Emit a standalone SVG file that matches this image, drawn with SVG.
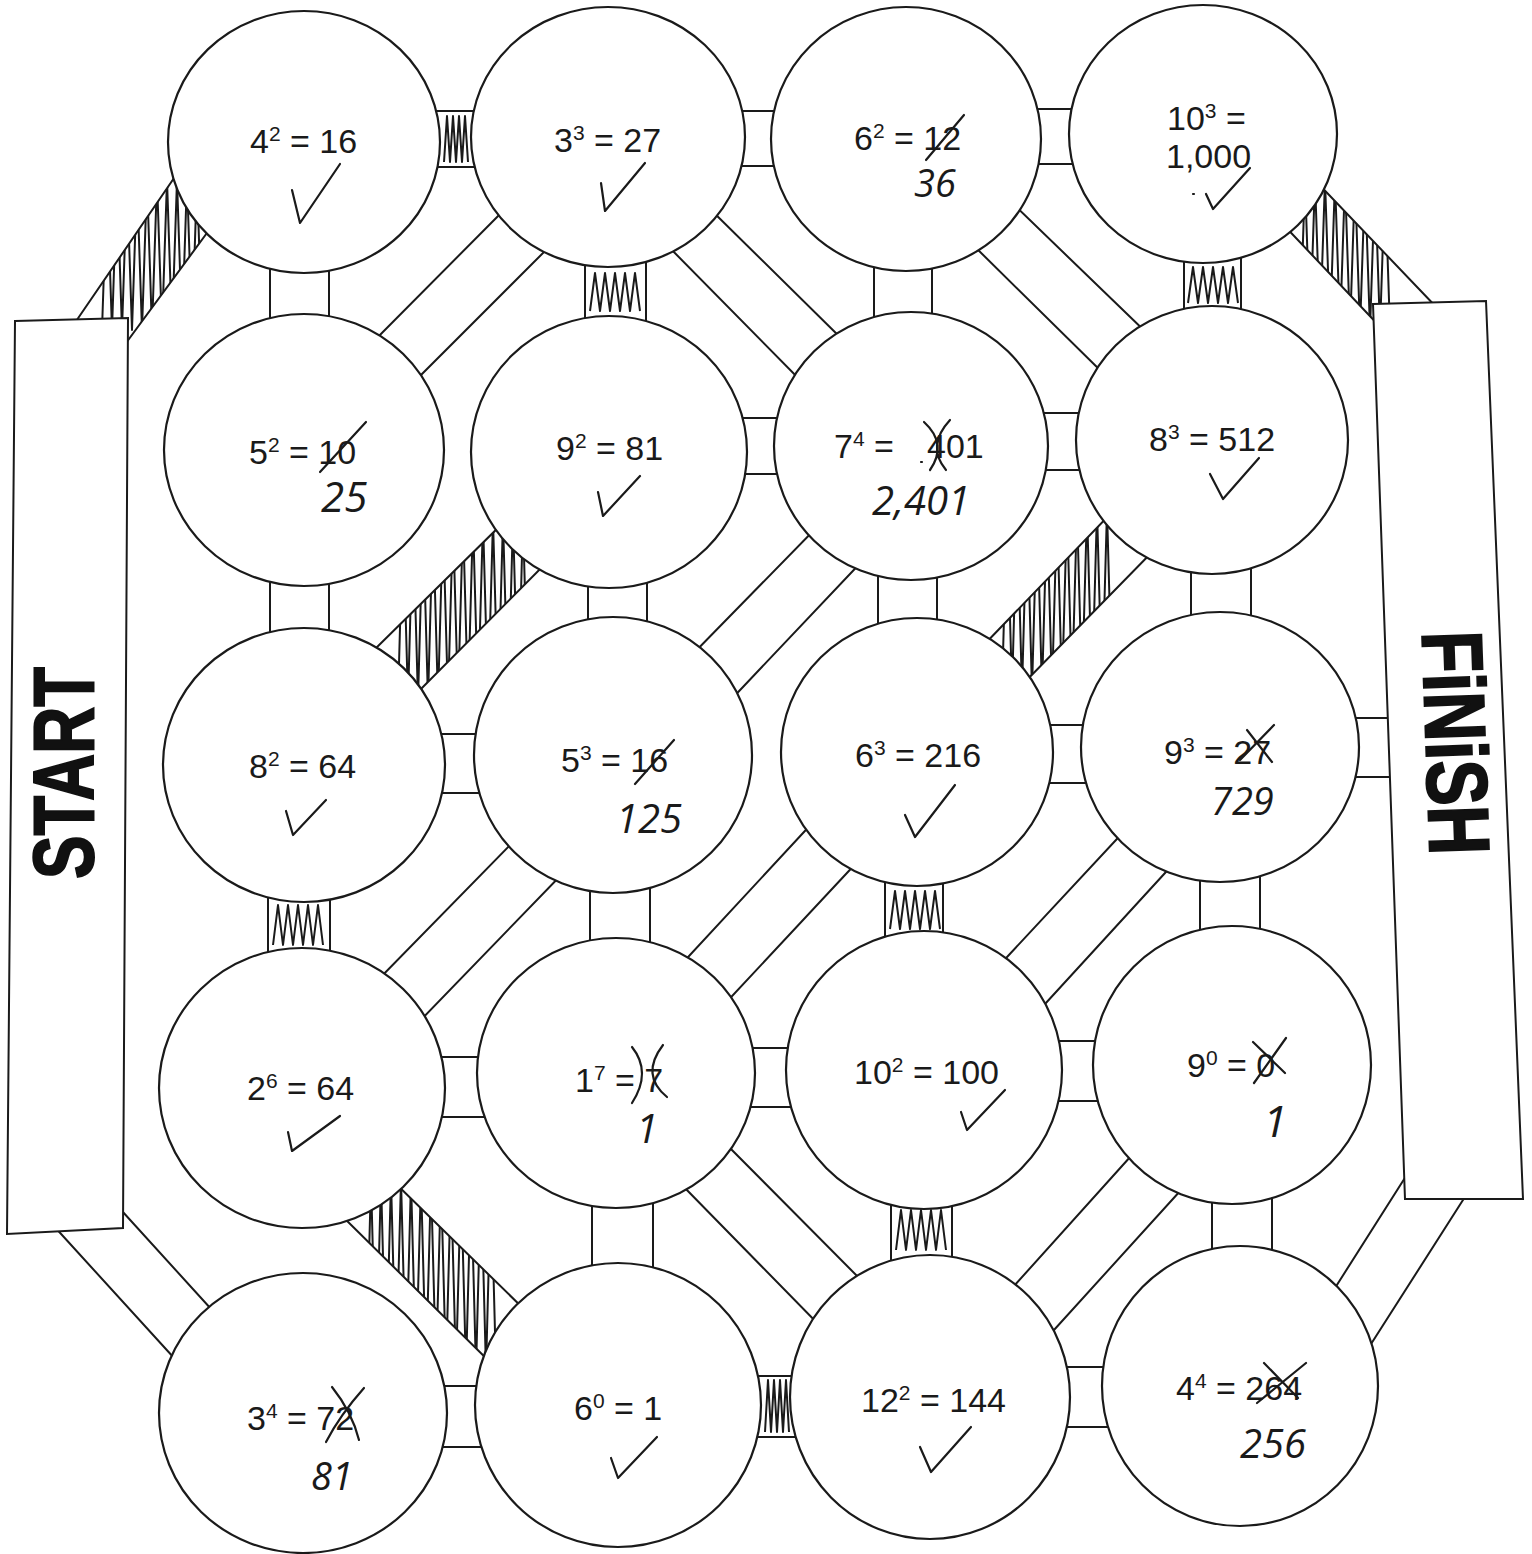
<svg xmlns="http://www.w3.org/2000/svg" width="1532" height="1554" viewBox="0 0 1532 1554">
<style>
.br{stroke:#1a1a1a;stroke-width:2;fill:none}
.sc{stroke:#1a1a1a;stroke-width:2;fill:none;stroke-linejoin:round}
.node ellipse{fill:#fff;stroke:#1a1a1a;stroke-width:2.2}
.t{font-family:"Liberation Sans",Arial,sans-serif;font-size:34px;fill:#1a1a1a}
.h{font-family:"Open Sans","Liberation Sans",sans-serif;font-style:italic;font-weight:normal;fill:#1a1a1a}
.pen{stroke:#1a1a1a;stroke-width:2.2;fill:none;stroke-linecap:round;stroke-linejoin:round}
.box{fill:#fff;stroke:#1a1a1a;stroke-width:2}
.lbl{font-family:"Liberation Sans",Arial,sans-serif;font-weight:bold;font-size:86px;fill:#111;stroke:#111;stroke-width:2}
</style>
<defs>
<clipPath id="cH1"><polygon points="441,111 472,111 472,167 441,167"/></clipPath>
<clipPath id="cH13"><polygon points="762,1376 790,1376 790,1437 762,1437"/></clipPath>
<clipPath id="cV2"><polygon points="585,262 646,262 646,320 585,320"/></clipPath>
<clipPath id="cV4"><polygon points="1184,258 1241,258 1241,312 1184,312"/></clipPath>
<clipPath id="cV9"><polygon points="268,898 330,898 330,952 268,952"/></clipPath>
<clipPath id="cV11"><polygon points="885,882 943,882 943,937 885,937"/></clipPath>
<clipPath id="cV14"><polygon points="891,1203 952,1203 952,1259 891,1259"/></clipPath>
<clipPath id="cD1"><polygon points="70,330 185,162 215,222 115,358"/></clipPath>
<clipPath id="cD2"><polygon points="1310,175 1440,311 1385,332 1278,219"/></clipPath>
<clipPath id="cD6"><polygon points="511,515 555,554 412,698 370,654"/></clipPath>
<clipPath id="cD7"><polygon points="1116,508 1158,546 1019,688 978,651"/></clipPath>
<clipPath id="cD12"><polygon points="389,1177 531,1316 499,1371 336,1210"/></clipPath>
</defs>
<rect width="1532" height="1554" fill="#fff"/>

<g id="connectors">
<path class="br" d="M400,111H520M400,167H520"/>
<path class="br" d="M700,111H820M700,166H820"/>
<path class="br" d="M1000,109H1110M1000,164H1110"/>
<path class="br" d="M700,418H820M700,474H820"/>
<path class="br" d="M1000,413H1120M1000,470H1120"/>
<path class="br" d="M400,734H520M400,793H520"/>
<path class="br" d="M1000,725H1130M1000,783H1130"/>
<path class="br" d="M1300,718H1400M1300,777H1400"/>
<path class="br" d="M400,1057H520M400,1117H520"/>
<path class="br" d="M700,1048H830M700,1107H830"/>
<path class="br" d="M1000,1041H1140M1000,1101H1140"/>
<path class="br" d="M400,1386H520M400,1447H520"/>
<path class="br" d="M700,1376H840M700,1437H840"/>
<path class="br" d="M1020,1367H1150M1020,1427H1150"/>
<path class="br" d="M270,240V350M329,240V350"/>
<path class="br" d="M585,230V350M646,230V350"/>
<path class="br" d="M874,240V350M932,240V350"/>
<path class="br" d="M1184,230V340M1241,230V340"/>
<path class="br" d="M270,550V660M329,550V660"/>
<path class="br" d="M588,550V650M647,550V650"/>
<path class="br" d="M878,540V650M937,540V650"/>
<path class="br" d="M1191,540V650M1251,540V650"/>
<path class="br" d="M268,860V990M330,860V990"/>
<path class="br" d="M590,850V980M650,850V980"/>
<path class="br" d="M885,850V970M943,850V970"/>
<path class="br" d="M1200,840V970M1260,840V970"/>
<path class="br" d="M592,1170V1300M653,1170V1300"/>
<path class="br" d="M891,1170V1300M952,1170V1300"/>
<path class="br" d="M1212,1160V1290M1272,1160V1290"/>
<path class="br" d="M70,330L185,162M115,358L215,222"/>
<path class="br" d="M1310,175L1440,311M1278,219L1385,332"/>
<path class="br" d="M510,204L368,347M553,243L408,388"/>
<path class="br" d="M705,204L847,344M664,242L807,387"/>
<path class="br" d="M1007,198L1153,339M968,240L1107,377"/>
<path class="br" d="M511,515L370,654M555,554L412,698"/>
<path class="br" d="M1116,508L978,651M1158,546L1019,688"/>
<path class="br" d="M686,661L821,523M725,706L867,556"/>
<path class="br" d="M518,837L375,983M566,870L415,1026"/>
<path class="br" d="M816,819L677,969M860,859L720,1009"/>
<path class="br" d="M1129,826L994,971M1176,861L1034,1016"/>
<path class="br" d="M389,1177L531,1316M336,1210L499,1371"/>
<path class="br" d="M722,1140L869,1288M681,1184L825,1331"/>
<path class="br" d="M1140,1146L1005,1296M1191,1179L1044,1341"/>
<path class="br" d="M1328,1299L1415,1162M1364,1355L1470,1189"/>
<path class="br" d="M112,1200L222,1321M52,1224L185,1370"/>
<path class="sc" clip-path="url(#cH1)" d="M444,162l3,-46 3,46 3,-46 3,46 3,-46 3,46 3,-46 3,46"/>
<path class="sc" clip-path="url(#cH13)" d="M765,1432l3,-52 3,52 3,-52 3,52 3,-52 3,52 3,-52 3,52"/>
<path class="sc" clip-path="url(#cV2)" d="M590,311l5,-38 5,38 5,-38 5,38 5,-38 5,38 5,-38 5,38 5,-38 5,38"/>
<path class="sc" clip-path="url(#cV4)" d="M1188,303l5,-36 5,36 5,-36 5,36 5,-36 5,36 5,-36 5,36 5,-36 5,36"/>
<path class="sc" clip-path="url(#cV9)" d="M273,945l5,-40 5,40 5,-40 5,40 5,-40 5,40 5,-40 5,40 5,-40 5,40"/>
<path class="sc" clip-path="url(#cV11)" d="M890,929l5,-38 5,38 5,-38 5,38 5,-38 5,38 5,-38 5,38 5,-38 5,38"/>
<path class="sc" clip-path="url(#cV14)" d="M896,1250l5,-40 5,40 5,-40 5,40 5,-40 5,40 5,-40 5,40 5,-40 5,40"/>
<path class="sc" clip-path="url(#cD1)" d="M102,330l5,-150 5,150 5,-150 5,150 5,-150 5,150 5,-150 5,150 5,-150 5,150 5,-150 5,150 5,-150 5,150 5,-150 5,150 5,-150 5,150 5,-150 5,150"/>
<path class="sc" clip-path="url(#cD2)" d="M1300,330l5,-150 5,150 5,-150 5,150 5,-150 5,150 5,-150 5,150 5,-150 5,150 5,-150 5,150 5,-150 5,150 5,-150 5,150 5,-150 5,150"/>
<path class="sc" clip-path="url(#cD6)" d="M398,700l5,-180 5,180 5,-180 5,180 5,-180 5,180 5,-180 5,180 5,-180 5,180 5,-180 5,180 5,-180 5,180 5,-180 5,180 5,-180 5,180 5,-180 5,180 5,-180 5,180 5,-180 5,180 5,-180 5,180"/>
<path class="sc" clip-path="url(#cD7)" d="M1002,690l5,-180 5,180 5,-180 5,180 5,-180 5,180 5,-180 5,180 5,-180 5,180 5,-180 5,180 5,-180 5,180 5,-180 5,180 5,-180 5,180 5,-180 5,180 5,-180 5,180"/>
<path class="sc" clip-path="url(#cD12)" d="M366,1370l5,-190 5,190 5,-190 5,190 5,-190 5,190 5,-190 5,190 5,-190 5,190 5,-190 5,190 5,-190 5,190 5,-190 5,190 5,-190 5,190 5,-190 5,190 5,-190 5,190 5,-190 5,190 5,-190 5,190"/>
</g>

<g id="start"><polygon class="box" points="15,321 128,318 123,1228 7,1234"/>
<text class="lbl" transform="translate(93,773) rotate(-90)" text-anchor="middle" textLength="212" lengthAdjust="spacingAndGlyphs">START</text></g>
<g id="finish"><polygon class="box" points="1373,304 1486,301 1523,1199 1405,1199"/>
<text class="lbl" transform="translate(1426,744) rotate(88)" text-anchor="middle" textLength="224" lengthAdjust="spacingAndGlyphs">FiNiSH</text></g>

<g id="n11" class="node"><ellipse cx="304" cy="142" rx="136" ry="131"/>
<text class="t" x="250" y="153">4<tspan dy="-12" font-size="21">2</tspan><tspan dy="12"> = 16</tspan></text>
<path class="pen" d="M292,190L300,223L340,164"/></g>
<g id="n12" class="node"><ellipse cx="608" cy="137" rx="137" ry="130"/>
<text class="t" x="554" y="152">3<tspan dy="-12" font-size="21">3</tspan><tspan dy="12"> = 27</tspan></text>
<path class="pen" d="M601,183L605,211L645,163"/></g>
<g id="n13" class="node"><ellipse cx="906" cy="139" rx="135" ry="132"/>
<text class="t" x="854" y="150">6<tspan dy="-12" font-size="21">2</tspan><tspan dy="12"> = 12</tspan></text>
<path class="pen" d="M926,160L964,115"/>
<text class="h" x="914" y="197" font-size="38">36</text></g>
<g id="n14" class="node"><ellipse cx="1203" cy="134" rx="134" ry="129"/>
<text class="t" x="1167" y="130">10<tspan dy="-12" font-size="21">3</tspan><tspan dy="12"> =</tspan></text>
<text class="t" x="1166" y="168">1,000</text>
<path class="pen" d="M1193,194l1,0M1206,194L1213,209L1250,168"/></g>

<g id="n21" class="node"><ellipse cx="304" cy="450" rx="140" ry="136"/>
<text class="t" x="249" y="464">5<tspan dy="-12" font-size="21">2</tspan><tspan dy="12"> = 10</tspan></text>
<path class="pen" d="M320,472L366,422"/>
<text class="h" x="321" y="512" font-size="42">25</text></g>
<g id="n22" class="node"><ellipse cx="609" cy="452" rx="138" ry="136"/>
<text class="t" x="556" y="460">9<tspan dy="-12" font-size="21">2</tspan><tspan dy="12"> = 81</tspan></text>
<path class="pen" d="M598,492L603,516L640,476"/></g>
<g id="n23" class="node"><ellipse cx="911" cy="446" rx="137" ry="134"/>
<text class="t" x="834" y="458">7<tspan dy="-12" font-size="21">4</tspan><tspan dy="12"> =</tspan></text>
<text class="t" x="927" y="458">401</text>
<path class="pen" d="M924,422Q948,444 930,470M950,420Q926,446 946,470M921,462l1,0"/>
<text class="h" x="872" y="515" font-size="40">2,401</text></g>
<g id="n24" class="node"><ellipse cx="1212" cy="440" rx="136" ry="134"/>
<text class="t" x="1149" y="451">8<tspan dy="-12" font-size="21">3</tspan><tspan dy="12"> = 512</tspan></text>
<path class="pen" d="M1210,474L1223,499L1259,458"/></g>

<g id="n31" class="node"><ellipse cx="304" cy="765" rx="141" ry="137"/>
<text class="t" x="249" y="778">8<tspan dy="-12" font-size="21">2</tspan><tspan dy="12"> = 64</tspan></text>
<path class="pen" d="M286,811L293,835L326,800"/></g>
<g id="n32" class="node"><ellipse cx="613" cy="755" rx="139" ry="138"/>
<text class="t" x="561" y="772">5<tspan dy="-12" font-size="21">3</tspan><tspan dy="12"> = 16</tspan></text>
<path class="pen" d="M635,784L674,740"/>
<text class="h" x="616" y="833" font-size="40">125</text></g>
<g id="n33" class="node"><ellipse cx="917" cy="752" rx="136" ry="134"/>
<text class="t" x="855" y="767">6<tspan dy="-12" font-size="21">3</tspan><tspan dy="12"> = 216</tspan></text>
<path class="pen" d="M905,815L915,837L955,785"/></g>
<g id="n34" class="node"><ellipse cx="1220" cy="747" rx="139" ry="135"/>
<text class="t" x="1164" y="764">9<tspan dy="-12" font-size="21">3</tspan><tspan dy="12"> = 27</tspan></text>
<path class="pen" d="M1240,760L1274,725M1247,730L1272,762"/>
<text class="h" x="1211" y="815" font-size="38">729</text></g>

<g id="n41" class="node"><ellipse cx="302" cy="1088" rx="143" ry="140"/>
<text class="t" x="247" y="1100">2<tspan dy="-12" font-size="21">6</tspan><tspan dy="12"> = 64</tspan></text>
<path class="pen" d="M288,1132L292,1151L340,1116"/></g>
<g id="n42" class="node"><ellipse cx="616" cy="1073" rx="139" ry="135"/>
<text class="t" x="575" y="1092">1<tspan dy="-12" font-size="21">7</tspan><tspan dy="12"> = 7</tspan></text>
<path class="pen" d="M632,1047Q652,1072 632,1103M663,1045Q640,1075 667,1097"/>
<text class="h" x="636" y="1143" font-size="40">1</text></g>
<g id="n43" class="node"><ellipse cx="924" cy="1070" rx="138" ry="139"/>
<text class="t" x="854" y="1084">10<tspan dy="-12" font-size="21">2</tspan><tspan dy="12"> = 100</tspan></text>
<path class="pen" d="M961,1112L967,1130L1005,1090"/></g>
<g id="n44" class="node"><ellipse cx="1232" cy="1065" rx="139" ry="139"/>
<text class="t" x="1187" y="1077">9<tspan dy="-12" font-size="21">0</tspan><tspan dy="12"> = 0</tspan></text>
<path class="pen" d="M1253,1042L1285,1073M1286,1038L1254,1083"/>
<text class="h" x="1263" y="1137" font-size="44">1</text></g>

<g id="n51" class="node"><ellipse cx="303" cy="1413" rx="144" ry="140"/>
<text class="t" x="247" y="1430">3<tspan dy="-12" font-size="21">4</tspan><tspan dy="12"> = 72</tspan></text>
<path class="pen" d="M332,1387Q352,1412 359,1440M364,1388Q340,1415 326,1442"/>
<text class="h" x="311" y="1490" font-size="38">81</text></g>
<g id="n52" class="node"><ellipse cx="618" cy="1405" rx="143" ry="142"/>
<text class="t" x="574" y="1420">6<tspan dy="-12" font-size="21">0</tspan><tspan dy="12"> = 1</tspan></text>
<path class="pen" d="M611,1458L618,1478L657,1437"/></g>
<g id="n53" class="node"><ellipse cx="930" cy="1397" rx="140" ry="142"/>
<text class="t" x="861" y="1412">12<tspan dy="-12" font-size="21">2</tspan><tspan dy="12"> = 144</tspan></text>
<path class="pen" d="M920,1447L931,1472L971,1427"/></g>
<g id="n54" class="node"><ellipse cx="1240" cy="1386" rx="138" ry="140"/>
<text class="t" x="1176" y="1400">4<tspan dy="-12" font-size="21">4</tspan><tspan dy="12"> = 264</tspan></text>
<path class="pen" d="M1257,1403L1306,1363M1264,1363L1298,1398"/>
<text class="h" x="1240" y="1458" font-size="40">256</text></g>
</svg>
